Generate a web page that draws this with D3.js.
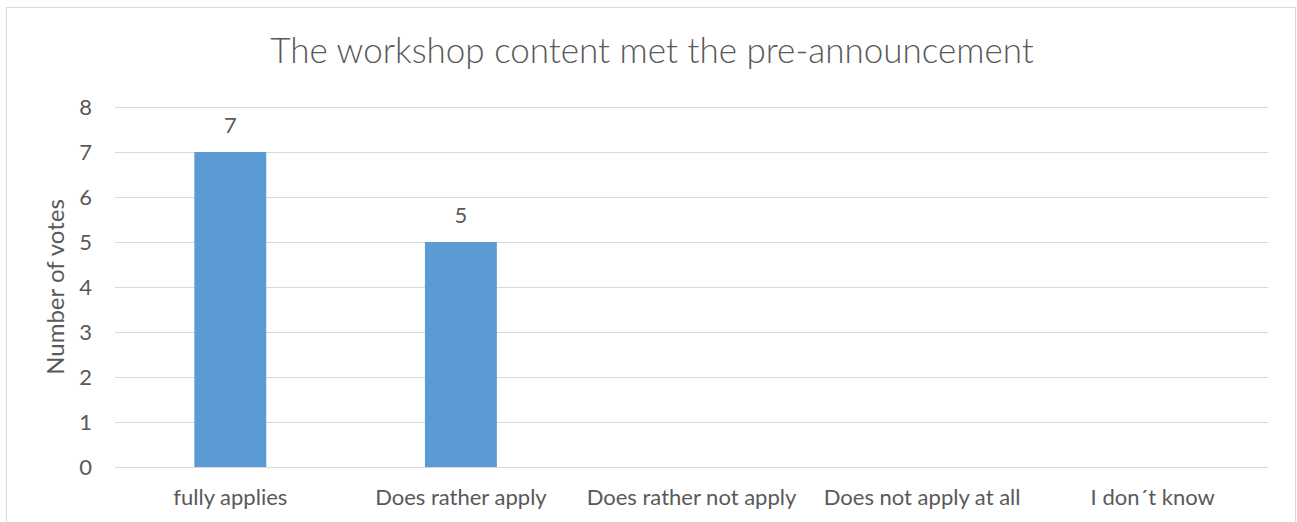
<!DOCTYPE html>
<html>
<head>
<meta charset="utf-8">
<script src="https://cdn.jsdelivr.net/npm/d3@7"></script>
<style>
  body { margin: 0; background: #fff; }
  text { font-family: Lato, "Open Sans", sans-serif; fill: #595959; }
</style>
</head>
<body>
<div id="chart"></div>
<script>
// data
var categories = ["fully applies", "Does rather apply", "Does rather not apply", "Does not apply at all", "I don\u00b4t know"];
var votes = [7, 5, 0, 0, 0];
var yTicks = [0, 1, 2, 3, 4, 5, 6, 7, 8];

var svgWidth = 1297;
var svgHeight = 522;

var margin = { top: 107, right: 29, bottom: 55, left: 115 };
var width = svgWidth - margin.left - margin.right;
var height = svgHeight - margin.top - margin.bottom;

var svg = d3.select("#chart")
  .append("svg")
  .attr("width", svgWidth)
  .attr("height", svgHeight);

// chart border
svg.append("rect")
  .attr("x", 6.5)
  .attr("y", 7.5)
  .attr("width", 1289)
  .attr("height", 530)
  .attr("fill", "none")
  .attr("stroke", "#d9d9d9");

var chartGroup = svg.append("g")
  .attr("transform", `translate(${margin.left}, ${margin.top})`);

var xScale = d3.scaleBand()
  .domain(categories)
  .range([0, width])
  .paddingInner(0.688)
  .paddingOuter(0.344);

var yScale = d3.scaleLinear()
  .domain([0, 8])
  .range([height, 0]);

// gridlines
var leftAxis = d3.axisLeft(yScale)
  .tickValues(yTicks)
  .tickSize(-width)
  .tickPadding(23)
  .tickFormat(d3.format("d"));

var yAxisG = chartGroup.append("g").call(leftAxis);
yAxisG.select(".domain").remove();
yAxisG.selectAll("line").attr("stroke", "#d9d9d9").attr("stroke-width", 1);
yAxisG.selectAll("text").style("font-size", "22px").attr("fill", "#595959");

// bars
chartGroup.selectAll("rect.bar")
  .data(votes)
  .enter()
  .append("rect")
  .attr("class", "bar")
  .attr("x", (d, i) => xScale(categories[i]))
  .attr("y", d => yScale(d))
  .attr("width", xScale.bandwidth())
  .attr("height", d => height - yScale(d))
  .attr("fill", "#5b9bd5");

// value labels (only non-zero shown)
chartGroup.selectAll("text.val")
  .data(votes.filter(d => d > 0))
  .enter()
  .append("text")
  .attr("class", "val")
  .attr("x", (d, i) => xScale(categories[i]) + xScale.bandwidth() / 2)
  .attr("y", d => yScale(d) - 19)
  .attr("text-anchor", "middle")
  .style("font-size", "22px")
  .text(d => d);

// x axis
var bottomAxis = d3.axisBottom(xScale).tickSize(0).tickPadding(22);
var xAxisG = chartGroup.append("g")
  .attr("transform", `translate(0, ${height})`)
  .call(bottomAxis);
xAxisG.select(".domain").attr("stroke", "#d9d9d9");
xAxisG.selectAll("text").style("font-size", "22px").attr("fill", "#595959");

// title
svg.append("text")
  .attr("x", 652)
  .attr("y", 63)
  .attr("text-anchor", "middle")
  .style("font-size", "35px")
  .style("font-weight", 300)
  .text("The workshop content met the pre-announcement");

// y axis label
svg.append("text")
  .attr("transform", "rotate(-90)")
  .attr("x", -287)
  .attr("y", 64)
  .attr("text-anchor", "middle")
  .style("font-size", "24px")
  .text("Number of votes");
</script>
</body>
</html>
